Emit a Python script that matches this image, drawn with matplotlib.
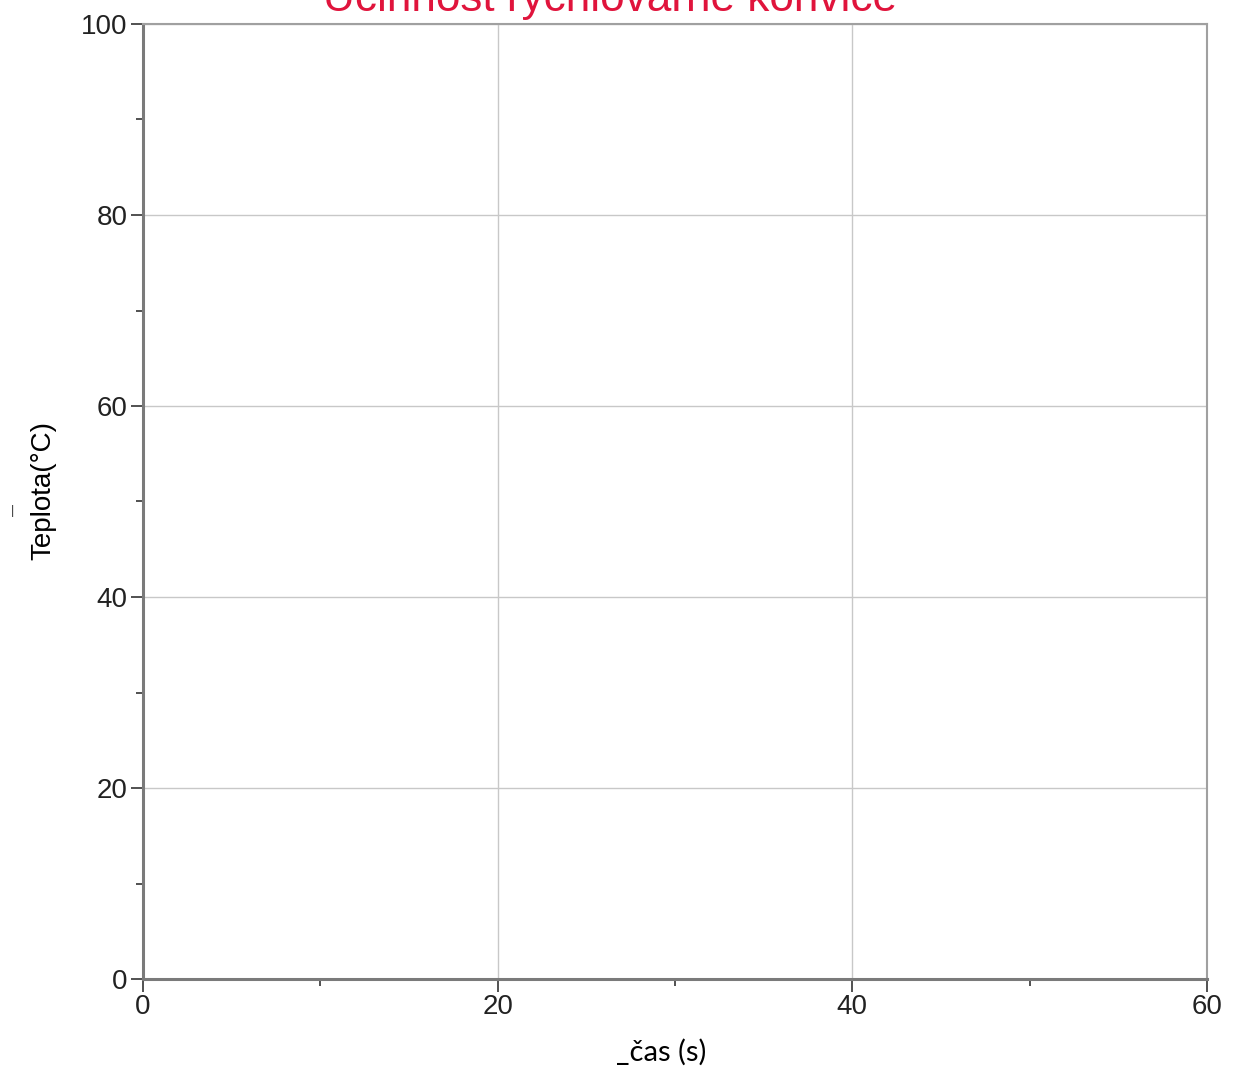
import matplotlib.pyplot as plt
from matplotlib.ticker import MultipleLocator

# data (graf je prázdný - žádná naměřená data)
cas = []       # čas (s)
teplota = []   # Teplota (°C)

x_ticks = [0, 20, 40, 60]
y_ticks = [0, 20, 40, 60, 80, 100]
title = "Účinnost rychlovarné konvice"

plt.rcParams['font.family'] = ['Liberation Sans', 'DejaVu Sans']

fig = plt.figure(figsize=(12.39, 10.73), dpi=100)
ax = fig.add_axes([143 / 1239, 1 - 979 / 1073, (1207 - 143) / 1239, (979 - 24) / 1073])

ax.plot(cas, teplota, color="#e0143c")

ax.set_xlim(0, 60)
ax.set_ylim(0, 100)
ax.set_xticks(x_ticks)
ax.set_yticks(y_ticks)
ax.xaxis.set_minor_locator(MultipleLocator(10))
ax.yaxis.set_minor_locator(MultipleLocator(10))

ax.grid(True, which="major", color="#c8c8c8", linewidth=1.0)
ax.set_axisbelow(True)

for s in ["left", "bottom"]:
    ax.spines[s].set_color("#7a7a7a")
    ax.spines[s].set_linewidth(2.2)
for s in ["top", "right"]:
    ax.spines[s].set_color("#a0a0a0")
    ax.spines[s].set_linewidth(1.5)

ax.tick_params(axis="both", which="major", length=9, width=1.2, color="#333333",
               labelsize=20, labelcolor="#222222", pad=2)
ax.tick_params(axis="both", which="minor", length=5, width=1.2, color="#333333")

ax.set_xlabel("_čas (s)", fontsize=21, family=["Lato", "DejaVu Sans"])
ax.xaxis.set_label_coords(0.487, -0.063)
ax.set_ylabel("Teplota(°C)", fontsize=20)
ax.yaxis.set_label_coords(-0.081, 0.511)
# krátká čárka vlevo od popisku osy y
fig.text(13 / 1239, 1 - 511 / 1073, "|", fontsize=9,
         ha="center", va="center", color="#333333")

fig.text(610 / 1239, 1 - 11 / 1073, title, color="#e0143c", fontsize=31.8,
         ha="center", va="baseline")

fig.savefig("out.png", dpi=100, facecolor="white")
